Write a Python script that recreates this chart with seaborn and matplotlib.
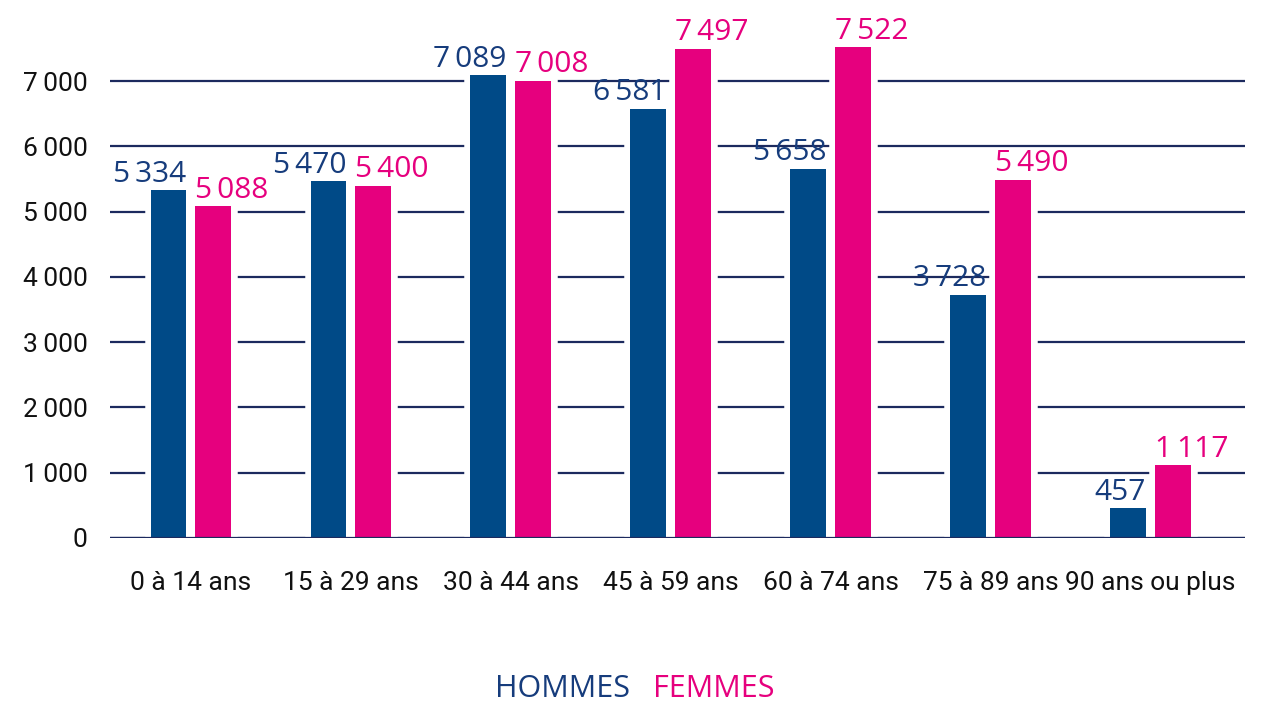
import pandas as pd
import matplotlib
matplotlib.use("Agg")
import matplotlib.pyplot as plt
import seaborn as sns

# population by age group
age_groups = ["0 à 14 ans", "15 à 29 ans", "30 à 44 ans", "45 à 59 ans",
              "60 à 74 ans", "75 à 89 ans", "90 ans ou plus"]
hommes = [5334, 5470, 7089, 6581, 5658, 3728, 457]
femmes = [5088, 5400, 7008, 7497, 7522, 5490, 1117]
series = ["HOMMES", "FEMMES"]
y_ticks = [0, 1000, 2000, 3000, 4000, 5000, 6000, 7000]

NAVY = "#004a87"
PINK = "#e6007e"
GRID = "#1c2a5e"
LABEL_NAVY = "#163c7c"

df = pd.DataFrame({
    "age": age_groups * 2,
    "sexe": ["HOMMES"] * len(hommes) + ["FEMMES"] * len(femmes),
    "valeur": hommes + femmes,
})

def fmt(v):
    return f"{v:,}".replace(",", "\u2009")

sns.set_style("white")
plt.rcParams["font.family"] = ["Roboto", "DejaVu Sans"]

fig = plt.figure(figsize=(12.71, 7.04), dpi=100)
ax = fig.add_axes([0.0865, 0.2358, 0.893, 0.7230])

# white halo behind bars to cut the gridlines around them
sns.barplot(data=df, x="age", y="valeur", hue="sexe", order=age_groups,
            hue_order=series, palette=["white", "white"], width=0.56, gap=0.2,
            saturation=1, edgecolor="white", linewidth=9, legend=False,
            ax=ax, zorder=2)
sns.barplot(data=df, x="age", y="valeur", hue="sexe", order=age_groups,
            hue_order=series, palette=[NAVY, PINK], width=0.56, gap=0.2,
            saturation=1, linewidth=0, legend=False, ax=ax, zorder=3)

ax.set_ylim(0, 7800)
ax.set_xlim(-0.506, 6.59)
ax.set_yticks(y_ticks)
ax.set_yticklabels([fmt(t) for t in y_ticks])
ax.yaxis.grid(True, color=GRID, linewidth=1.6, zorder=1)
ax.set_axisbelow(True)
ax.axhline(0, color=GRID, linewidth=1.6, zorder=4)
for s in ax.spines.values():
    s.set_visible(False)
ax.set_xlabel("")
ax.set_ylabel("")
ax.tick_params(axis="both", length=0, labelsize=19, labelcolor="#111111")
ax.tick_params(axis="x", pad=24)
ax.tick_params(axis="y", pad=16)

# value labels
label_font = ["Open Sans", "DejaVu Sans"]
for cont, color, side in zip(ax.containers[2:], [LABEL_NAVY, PINK], ["right", "left"]):
    for bar in cont:
        h = bar.get_height()
        x = bar.get_x() + (bar.get_width() if side == "right" else 0)
        ax.annotate(fmt(int(round(h))), (x, h), xytext=(0, 6),
                    textcoords="offset points", ha=side, va="baseline",
                    fontsize=21.5, color=color, family=label_font, zorder=5)

# legend as coloured words
fig.text(0.4957, 0.01, "HOMMES", ha="right", va="baseline", fontsize=22,
         color=LABEL_NAVY, family=label_font)
fig.text(0.5138, 0.01, "FEMMES", ha="left", va="baseline", fontsize=22,
         color=PINK, family=label_font)

fig.savefig("out.png", dpi=100)
